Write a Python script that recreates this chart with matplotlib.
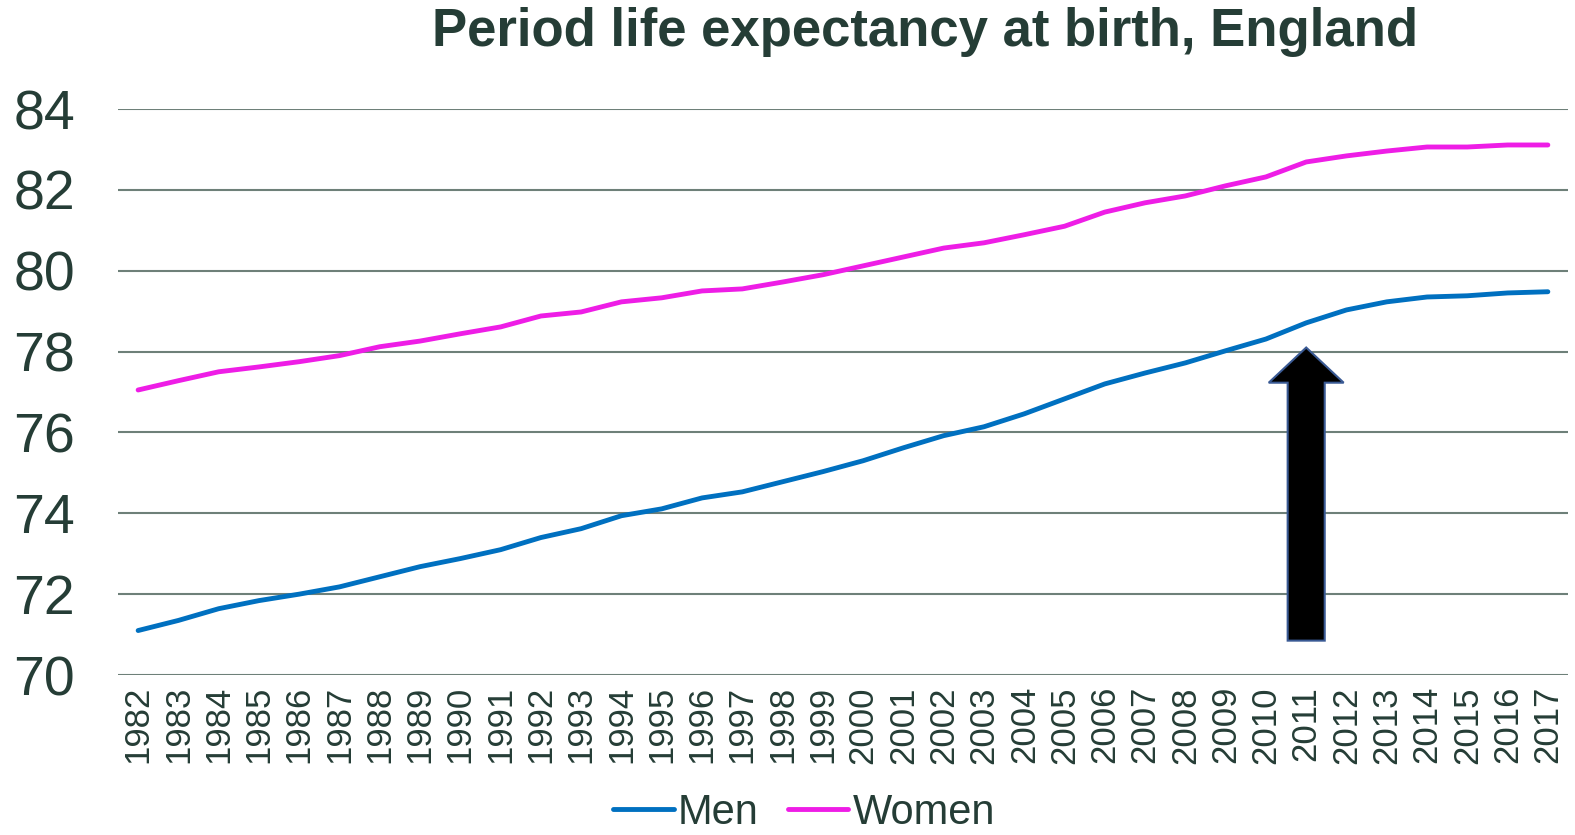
import matplotlib
matplotlib.use("Agg")
import matplotlib.pyplot as plt
from matplotlib.patches import FancyArrow

plt.rcParams["font.family"] = ["Liberation Sans", "DejaVu Sans"]

years = list(range(1982, 2018))
men = [71.10, 71.35, 71.64, 71.84, 72.00, 72.18, 72.43, 72.68, 72.88, 73.10,
       73.40, 73.62, 73.94, 74.11, 74.38, 74.53, 74.78, 75.03, 75.30, 75.62,
       75.92, 76.14, 76.46, 76.83, 77.20, 77.47, 77.72, 78.02, 78.31, 78.71,
       79.03, 79.23, 79.35, 79.38, 79.45, 79.48]
women = [77.05, 77.28, 77.50, 77.62, 77.75, 77.90, 78.12, 78.26, 78.44, 78.61,
         78.88, 78.98, 79.23, 79.33, 79.50, 79.55, 79.72, 79.90, 80.12, 80.34,
         80.56, 80.69, 80.89, 81.10, 81.45, 81.68, 81.85, 82.10, 82.32, 82.69,
         82.84, 82.96, 83.06, 83.06, 83.11, 83.11]
y_ticks = [70, 72, 74, 76, 78, 80, 82, 84]

TEXT = "#253d36"
GRID = "#6e8079"
MEN_C = "#0070c0"
WOMEN_C = "#ee1de6"

fig = plt.figure(figsize=(15.75, 8.35), dpi=100)
ax = fig.add_axes([118 / 1575, 1 - 675 / 835, 1450 / 1575, 566 / 835])

x = list(range(len(years)))
ax.plot(x, men, color=MEN_C, lw=3.5, solid_capstyle="round", label="Men", zorder=3)
ax.plot(x, women, color=WOMEN_C, lw=3.5, solid_capstyle="round", label="Women", zorder=3)

# arrow pointing at 2011
i2011 = years.index(2011)
arr = FancyArrow(i2011, 70.85, 0, 7.25, width=0.92, head_width=1.86, head_length=0.87,
                 length_includes_head=True, facecolor="black", edgecolor="#3a5a94",
                 linewidth=1.5, zorder=4)
ax.add_patch(arr)

ax.set_xlim(-0.5, len(years) - 0.5)
ax.set_ylim(70, 84)
ax.set_yticks(y_ticks)
ax.set_yticklabels([str(t) for t in y_ticks], fontsize=40, color=TEXT)
ax.set_xticks(x)
ax.set_xticklabels([str(y) for y in years], rotation=90, fontsize=25, color=TEXT)
ax.tick_params(length=0)
ax.tick_params(axis="y", pad=31)
ax.tick_params(axis="x", pad=8)
ax.grid(axis="y", color=GRID, lw=1.5)
ax.set_axisbelow(True)
for s in ax.spines.values():
    s.set_visible(False)

fig.text(925 / 1575, 1 - 32 / 835, "Period life expectancy at birth, England",
         ha="center", va="center", fontsize=38, fontweight="bold", color=TEXT)

leg = fig.legend(loc="center", bbox_to_anchor=(804 / 1575, 1 - 813 / 835), ncol=2,
                 frameon=False, fontsize=30, handlelength=1.45, handletextpad=0.1,
                 columnspacing=0.7)
for t in leg.get_texts():
    t.set_color(TEXT)
for h in leg.get_lines():
    h.set_linewidth(3.5)

fig.savefig("out.png", dpi=100)
